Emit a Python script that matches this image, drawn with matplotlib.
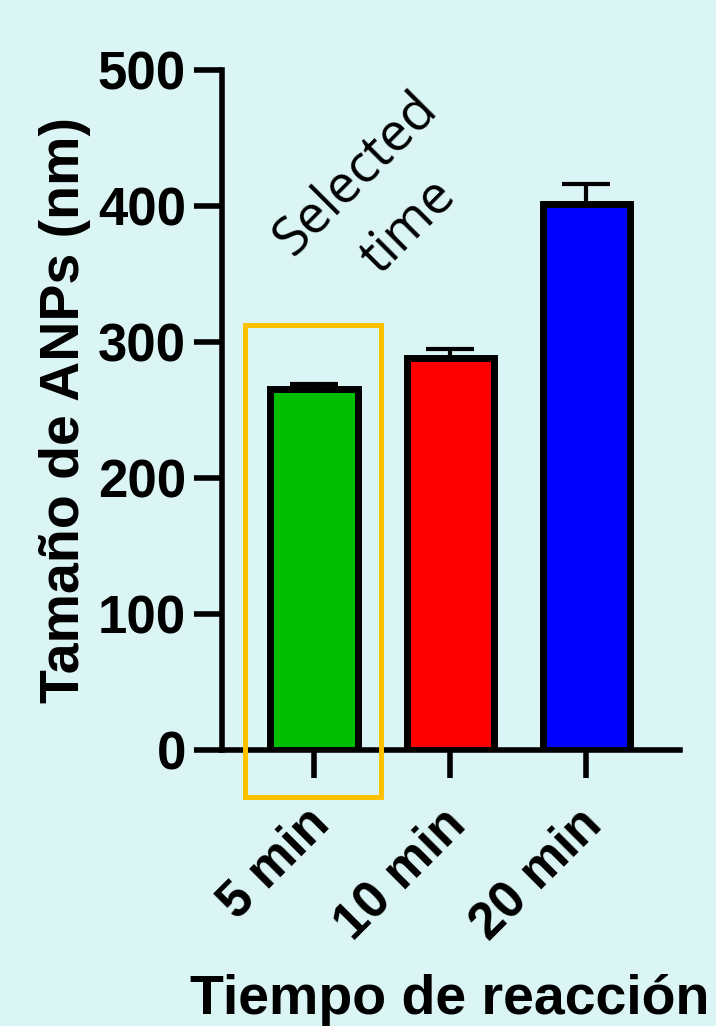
import numpy as np
import matplotlib
matplotlib.use("Agg")
import matplotlib.pyplot as plt
import matplotlib.transforms as mtransforms
from matplotlib.patches import Rectangle

# datos
categorias = ["5 min", "10 min", "20 min"]
tamano = [265, 288, 401]
error = [4, 7, 15]
colores = ["#00BF00", "#FF0000", "#0000FF"]

fondo = "#DBF4F4"
plt.rcParams['font.family'] = ['Liberation Sans', 'DejaVu Sans']

fig = plt.figure(figsize=(7.16, 10.26), dpi=100, facecolor=fondo)
ax = fig.add_axes([0.310, 0.269, 0.640, 0.663])
ax.set_facecolor(fondo)

x = np.arange(len(categorias))
ax.bar(x, tamano, width=0.64, color=colores, edgecolor="black", linewidth=5, zorder=3)
ax.errorbar(x, tamano, yerr=[np.zeros(3), error], fmt="none", ecolor="black",
            elinewidth=3, capsize=17, capthick=3, zorder=2)

ax.spines["top"].set_visible(False)
ax.spines["right"].set_visible(False)
ax.spines["left"].set_linewidth(4)
ax.spines["bottom"].set_linewidth(4)
ax.tick_params(axis="both", width=4, length=20, pad=6)
ax.tick_params(axis="x", pad=14)

ax.set_xlim(-0.676, 2.69)
ax.set_ylim(0, 500)
ax.set_yticks([0, 100, 200, 300, 400, 500])
ax.set_xticks(x)
ax.set_xticklabels(categorias, rotation=45, ha="right", rotation_mode="anchor",
                   fontsize=37, fontweight="bold")
# desplazar un poco las etiquetas del eje x
off = mtransforms.ScaledTranslation(-9/100, -2/100, fig.dpi_scale_trans)
for lab in ax.get_xticklabels():
    lab.set_transform(lab.get_transform() + off)
for lab in ax.get_yticklabels():
    lab.set_fontsize(38)
    lab.set_fontweight("bold")

ax.set_ylabel("Tamaño de ANPs (nm)", fontsize=40, fontweight="bold")
ax.yaxis.set_label_coords(-0.285, 0.5)
ax.set_xlabel("Tiempo de reacción", fontsize=40, fontweight="bold", va="center")
ax.xaxis.set_label_coords(0.498, -0.368)

# recuadro naranja
rect = Rectangle((-0.507, -34.6), 1.0, 347, fill=False, edgecolor="#FFC000",
                 linewidth=3.6, clip_on=False, zorder=4)
ax.add_patch(rect)

ax.text(0.50, 404, "Selected\ntime", rotation=45, ha="center", va="center",
        fontsize=38, family=["Open Sans", "DejaVu Sans"], linespacing=1.5,
        rotation_mode="anchor")

fig.savefig("out.png", dpi=100, facecolor=fondo)
